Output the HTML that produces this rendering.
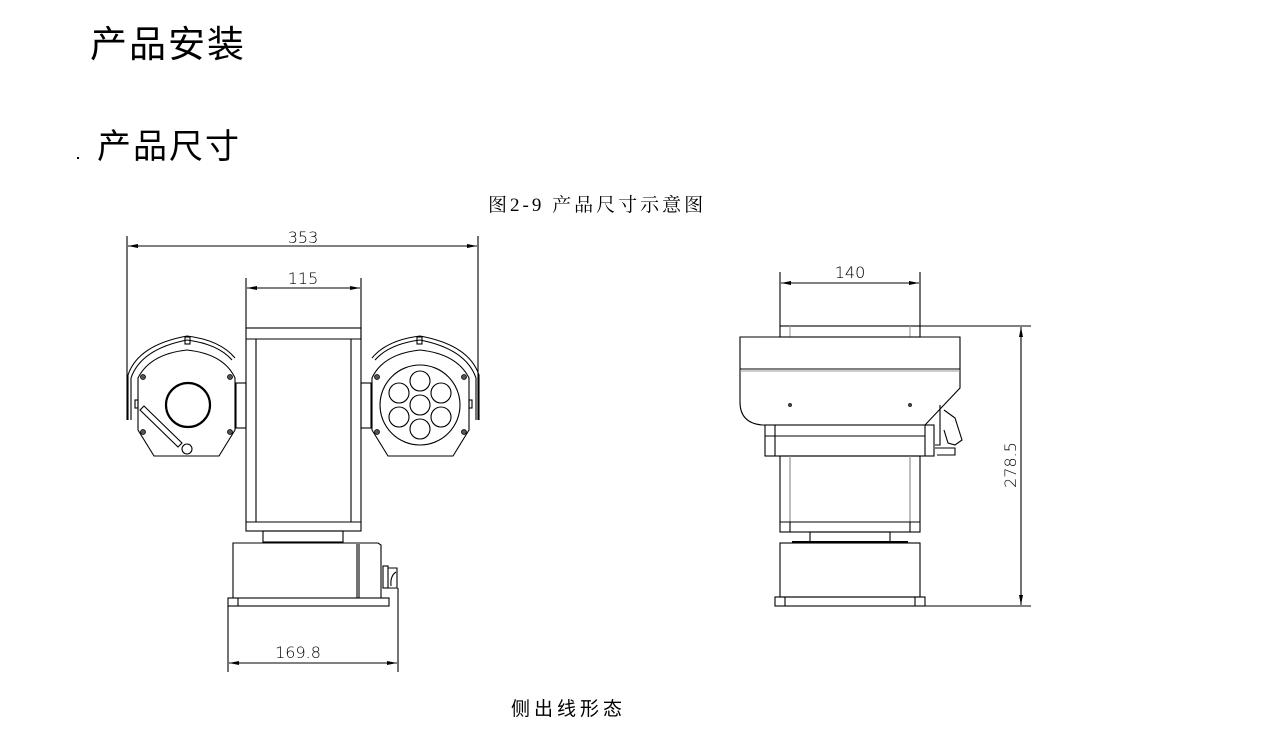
<!DOCTYPE html>
<html><head><meta charset="utf-8"><style>
html,body{margin:0;padding:0;background:#fff;}
svg{display:block}
</style></head><body>
<svg width="1266" height="748" viewBox="0 0 1266 748" xmlns="http://www.w3.org/2000/svg">
<defs>
<marker id="a" viewBox="0 0 10 4" refX="10" refY="2" markerWidth="10" markerHeight="4" orient="auto-start-reverse" markerUnits="userSpaceOnUse"><path d="M0,0 L10,2 L0,4z" fill="#000"/></marker>
</defs>
<g font-family="'Liberation Sans','Noto Sans CJK SC',sans-serif" fill="#000">
<text x="90" y="57" font-size="37" letter-spacing="2">产品安装</text>
<text x="97" y="158" font-size="34" letter-spacing="2">产品尺寸</text>
<rect x="77" y="157" width="2" height="2"/>
<text x="488" y="211" font-size="19" letter-spacing="3" font-family="'Liberation Serif','Noto Serif CJK SC',serif">图2-9  产品尺寸示意图</text>
<text x="511" y="715" font-size="19" letter-spacing="4">侧出线形态</text>
</g>
<g fill="none" stroke="#000" stroke-width="1.1">
<line x1="127" y1="236" x2="127" y2="420"/><line x1="478" y1="236" x2="478" y2="420"/>
<line x1="128" y1="246" x2="477" y2="246" marker-start="url(#a)" marker-end="url(#a)"/>
<line x1="246" y1="278" x2="246" y2="328"/><line x1="361" y1="278" x2="361" y2="340"/>
<line x1="247" y1="288" x2="360" y2="288" marker-start="url(#a)" marker-end="url(#a)"/>
<line x1="228" y1="606" x2="228" y2="672"/><line x1="398" y1="588" x2="398" y2="672"/>
<line x1="229" y1="663" x2="397" y2="663" marker-start="url(#a)" marker-end="url(#a)"/>
<rect x="246" y="328" width="115" height="203"/>
<line x1="256" y1="339" x2="256" y2="522"/><line x1="351" y1="339" x2="351" y2="522"/>
<line x1="246" y1="339" x2="361" y2="339"/><line x1="246" y1="522" x2="361" y2="522"/>
<rect x="263" y="531" width="80" height="11"/>
<path d="M245,543 L233,543 L233,598 M233,543 L378,543 L381,545 L381,598"/>
<line x1="357" y1="544" x2="357" y2="598"/><line x1="359" y1="544" x2="359" y2="598"/>
<rect x="228" y="598" width="161" height="8"/><line x1="238" y1="598" x2="238" y2="606"/>
<rect x="383" y="566" width="5" height="22"/><path d="M388,568 L397,568 L397,588 L388,588 M396,572 Q390,576 391,586"/>
<rect x="236" y="383" width="10" height="45"/><rect x="361" y="383" width="10" height="45"/>
<path d="M138,430 L138,378 Q150,354 187,350 Q224,354 235,378 L235,430 L219,456 L154,456 Z"/>
<path d="M128,420 L128,375 Q138,345 187,336 Q220,340 235,358"/>
<path d="M131,420 L131,378 Q141,349 187,340 Q218,344 232,360"/>
<rect x="185" y="337" width="5" height="7"/>
<circle cx="188" cy="405" r="22" stroke-width="2.2"/>
<rect x="135" y="400" width="3" height="8"/>
<path d="M140,410 L178,447 L182,443 L144,406 Z"/>
<circle cx="187" cy="449" r="5"/>
<path d="M469,430 L469,378 Q457,354 420,350 Q383,354 372,378 L372,430 L388,456 L453,456 Z"/>
<path d="M479,420 L479,375 Q469,345 420,336 Q387,340 372,358"/>
<path d="M476,420 L476,378 Q466,349 420,340 Q389,344 375,360"/>
<rect x="417" y="337" width="5" height="7"/>
<rect x="469" y="400" width="3" height="8"/>
<circle cx="420" cy="405" r="40"/>
<circle cx="420" cy="405" r="10"/><circle cx="420" cy="381" r="10"/><circle cx="420" cy="429" r="10"/>
<circle cx="399" cy="393" r="10"/><circle cx="441" cy="393" r="10"/><circle cx="399" cy="417" r="10"/><circle cx="441" cy="417" r="10"/>
</g>
<g fill="#555" stroke="#000" stroke-width="0.8">
<circle cx="143" cy="377" r="2.5"/><circle cx="230" cy="377" r="2.5"/><circle cx="143" cy="432" r="2.5"/><circle cx="230" cy="432" r="2.5"/>
<circle cx="377" cy="377" r="2.5"/><circle cx="464" cy="377" r="2.5"/><circle cx="377" cy="432" r="2.5"/><circle cx="464" cy="432" r="2.5"/>
<circle cx="790" cy="405" r="1.5"/><circle cx="910" cy="405" r="1.5"/>
</g>
<g font-family="'DejaVu Sans','Liberation Sans',sans-serif" font-size="16" fill="#000" text-anchor="middle" font-weight="300">
<text x="303" y="243">353</text>
<text x="303" y="284">115</text>
<text x="298" y="658">169.8</text>
<text x="850" y="278">140</text>
<text transform="translate(1016,465) rotate(-90)">278.5</text>
</g>
<g fill="none" stroke="#000" stroke-width="1.1">
<line x1="780" y1="272" x2="780" y2="326"/><line x1="920" y1="272" x2="920" y2="326"/>
<line x1="781" y1="283" x2="919" y2="283" marker-start="url(#a)" marker-end="url(#a)"/>
<line x1="920" y1="326" x2="1031" y2="326"/><line x1="925" y1="606" x2="1031" y2="606"/>
<line x1="1021" y1="327" x2="1021" y2="605" marker-start="url(#a)" marker-end="url(#a)"/>
<rect x="780" y="326" width="140" height="11"/>
<line x1="790" y1="326" x2="790" y2="337" stroke="#999"/><line x1="910" y1="326" x2="910" y2="337" stroke="#999"/>
<path d="M740,337 L960,337 L960,388 L925,425 L762,425 Q740,423 740,402 Z"/>
<line x1="740" y1="369" x2="960" y2="369"/><line x1="740" y1="371" x2="960" y2="371" stroke="#999"/>
<rect x="765" y="425" width="169" height="31"/>
<line x1="775" y1="425" x2="775" y2="456"/><line x1="925" y1="425" x2="925" y2="456"/>
<line x1="765" y1="436" x2="925" y2="436"/>
<path d="M940,405 L940,445 L935,445 M944,410 L955,418 L962,440 L955,445 L948,443 L944,430 M935,448 L955,448 L955,455 L937,455"/>
<rect x="780" y="456" width="140" height="76"/>
<line x1="790" y1="456" x2="790" y2="522" stroke="#888"/><line x1="910" y1="456" x2="910" y2="522" stroke="#888"/>
<line x1="780" y1="522" x2="920" y2="522"/><line x1="790" y1="522" x2="790" y2="532"/><line x1="910" y1="522" x2="910" y2="532"/>
<rect x="810" y="532" width="80" height="10"/>
<line x1="792" y1="542" x2="908" y2="542" stroke-width="2"/>
<rect x="780" y="543" width="140" height="54"/>
<rect x="775" y="597" width="150" height="9"/>
<line x1="785" y1="597" x2="785" y2="606"/><line x1="915" y1="597" x2="915" y2="606"/>
</g>
</svg>
</body></html>
